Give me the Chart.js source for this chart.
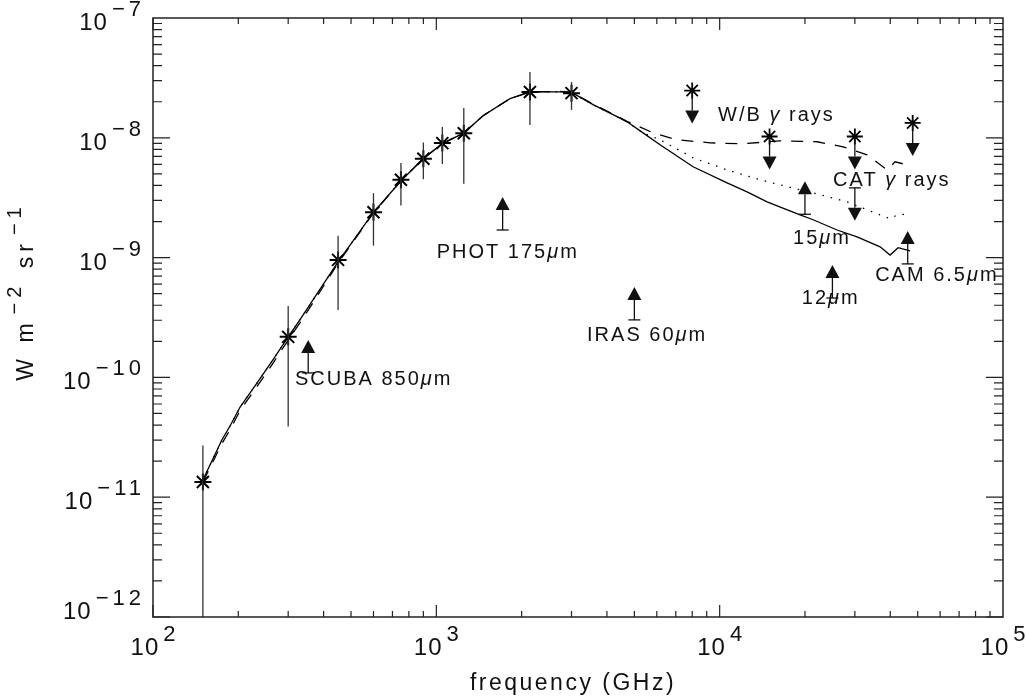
<!DOCTYPE html>
<html>
<head>
<meta charset="utf-8">
<script src="https://cdn.jsdelivr.net/npm/chart.js@4.4.0/dist/chart.umd.min.js"></script>
<style>
  html, body { margin: 0; padding: 0; background: #fff; }
  #wrap { width: 1026px; height: 698px; }
</style>
</head>
<body>
<div id="wrap"><canvas id="sedChart" width="1026" height="698"></canvas></div>
<script>
// Measured points (frequency in GHz, intensity in W m^-2 sr^-1)
const dataFreq = [150, 300, 450, 600, 750, 900, 1050, 1250, 2140, 3000];
const dataVal  = [1.34e-11, 2.18e-10, 9.57e-10, 2.39e-9, 4.46e-9, 6.68e-9, 9.03e-9, 1.09e-8, 2.41e-8, 2.36e-8];
const dataHi   = [2.7e-11, 3.95e-10, 1.52e-9, 3.45e-9, 6.15e-9, 9.14e-9, 1.23e-8, 1.77e-8, 3.54e-8, 2.92e-8];
const dataLo   = [1e-12, 3.9e-11, 3.66e-10, 1.26e-9, 2.72e-9, 4.52e-9, 6.03e-9, 4.13e-9, 1.28e-8, 1.71e-8];

// W/B gamma-ray upper limits (asterisk + down arrow)
const gammaFreq = [8000, 15000, 30000, 48000];
const gammaVal  = [2.48e-8, 1.025e-8, 1.025e-8, 1.33e-8];

// CAT gamma-ray upper limit (bar + down arrow)
const catFreq = [30000];
const catVal  = [3.82e-9];

// lower limits (bar + up arrow): SCUBA, PHOT, IRAS 60, 15um, 12um, CAM 6.5um
const lowFreq = [353, 1714, 5000, 20000, 25000, 46100];
const lowVal  = [1.09e-10, 1.70e-9, 3.02e-10, 2.3e-9, 4.6e-10, 8.86e-10];

// model curves
const solidFreq = [150, 175, 187, 203, 233, 265, 300, 330, 367, 450, 598, 751, 898, 1047, 1252, 1462, 1820, 2142,
  2733, 3013, 3574, 4343, 4711, 5366, 6161, 8056, 10620, 12495, 14701, 19220, 21365, 25970, 30549, 36837, 39950, 42630, 47000];
const solidVal = [1.39e-11, 3.0e-11, 3.93e-11, 5.66e-11, 8.98e-11, 1.40e-10, 2.18e-10, 3.02e-10, 4.43e-10, 9.2e-10, 2.36e-9,
  4.38e-9, 6.68e-9, 8.91e-9, 1.10e-8, 1.53e-8, 2.12e-8, 2.42e-8, 2.42e-8, 2.38e-8, 1.89e-8, 1.50e-8, 1.36e-8, 1.10e-8,
  8.74e-9, 5.73e-9, 4.21e-9, 3.54e-9, 2.92e-9, 2.27e-9, 2.07e-9, 1.70e-9, 1.49e-9, 1.23e-9, 1.05e-9, 1.21e-9, 1.14e-9];

const dottedFreq = [150, 175, 187, 203, 233, 265, 300, 330, 367, 450, 598, 751, 898, 1047, 1252, 1462, 1820, 2142,
  2733, 3013, 3574, 4343, 4711, 5366, 6161, 8056, 10620, 13885, 19220, 21365, 28170, 36837, 39950, 42290, 47000];
const dottedVal = [1.39e-11, 3.0e-11, 3.93e-11, 5.66e-11, 8.98e-11, 1.40e-10, 2.18e-10, 3.02e-10, 4.43e-10, 9.2e-10, 2.36e-9,
  4.38e-9, 6.68e-9, 8.91e-9, 1.10e-8, 1.53e-8, 2.12e-8, 2.42e-8, 2.42e-8, 2.38e-8, 1.89e-8, 1.50e-8, 1.36e-8, 1.10e-8,
  9.62e-9, 6.81e-9, 5.40e-9, 4.46e-9, 3.68e-9, 3.47e-9, 2.92e-9, 2.27e-9, 2.11e-9, 2.27e-9, 2.32e-9];

const dashedFreq = [150, 175, 187, 203, 233, 265, 300, 330, 367, 450, 598, 751, 898, 1047, 1252, 1462, 1820, 2142,
  2733, 3013, 3574, 4343, 4711, 5821, 7071, 9250, 12094, 16340, 22070, 27260, 33140, 38990, 41600, 45860];
const dashedVal = [1.34e-11, 2.8e-11, 3.65e-11, 5.3e-11, 8.4e-11, 1.31e-10, 2.05e-10, 2.85e-10, 4.2e-10, 9.0e-10, 2.33e-9,
  4.38e-9, 6.68e-9, 8.91e-9, 1.10e-8, 1.53e-8, 2.12e-8, 2.42e-8, 2.44e-8, 2.40e-8, 1.91e-8, 1.52e-8, 1.37e-8,
  1.10e-8, 9.62e-9, 9.08e-9, 8.91e-9, 9.44e-9, 9.27e-9, 8.41e-9, 7.21e-9, 5.40e-9, 6.30e-9, 5.95e-9];

// annotations
const noteText = ['SCUBA 850μm', 'PHOT 175μm', 'IRAS 60μm', 'W/B γ rays', 'CAT γ rays', '15μm', '12μm', 'CAM 6.5μm'];
const noteFreq = [317, 1003, 3404, 9872, 25140, 18160, 19490, 35380];
const noteVal  = [8.65e-11, 9.94e-10, 2.01e-10, 1.39e-8, 3.97e-9, 1.30e-9, 4.10e-10, 6.38e-10];

// axes
const xTickVals = [1e2, 1e3, 1e4, 1e5];
const xTickExp  = ['2', '3', '4', '5'];
const yTickVals = [1e-12, 1e-11, 1e-10, 1e-9, 1e-8, 1e-7];
const yTickExp  = ['−12', '−11', '−10', '−9', '−8', '−7'];

const FONT = '"Liberation Sans", Arial, sans-serif';
const INK = '#111';

function toPoints(xs, ys) {
    return xs.map((f, i) => ({ x: f, y: ys[i] }));
}

// width of a string made of normal and superscript pieces
function pieceWidth(ctx, parts, base, sup) {
    let w = 0;
    parts.forEach(p => {
        ctx.font = p.sup ? sup.font : base.font;
        ctx.letterSpacing = (p.sup ? sup.spacing : base.spacing) + 'px';
        w += ctx.measureText(p.t).width + (p.gap || 0);
    });
    return w;
}

function drawPieces(ctx, parts, x, y, base, sup) {
    let cx = x;
    parts.forEach(p => {
        ctx.font = (p.it ? 'italic ' : '') + (p.sup ? sup.font : base.font);
        ctx.letterSpacing = (p.sup ? sup.spacing : base.spacing) + 'px';
        cx += p.gap || 0;
        ctx.fillText(p.t, cx, p.sup ? y - sup.raise : y);
        cx += ctx.measureText(p.t).width;
    });
}

// split a label so that Greek letters come out in italics
function noteParts(text) {
    return text.split(/([μγ])/).filter(s => s).map(s => ({ t: s, it: /[μγ]/.test(s) }));
}

// arrow from (px, py): dir = 1 points down, -1 points up
function drawArrow(ctx, px, py, dir) {
    const len = 33, triH = 13, half = 7;
    const baseY = py + dir * (len - triH);
    ctx.beginPath();
    ctx.moveTo(px, py);
    ctx.lineTo(px, baseY);
    ctx.stroke();
    ctx.beginPath();
    ctx.moveTo(px - half, baseY);
    ctx.lineTo(px + half, baseY);
    ctx.lineTo(px, py + dir * len);
    ctx.closePath();
    ctx.fill();
}

function drawCap(ctx, px, py) {
    ctx.beginPath();
    ctx.moveTo(px - 6, py);
    ctx.lineTo(px + 6, py);
    ctx.stroke();
}

const overlayPlugin = {
    id: 'overlay',
    afterDatasetsDraw(chart) {
        const { ctx, chartArea: a, scales: { x, y } } = chart;
        ctx.save();
        ctx.beginPath();
        ctx.rect(a.left, a.top, a.right - a.left, a.bottom - a.top);
        ctx.clip();

        // error bars on measured points
        ctx.strokeStyle = '#333';
        ctx.lineWidth = 1.3;
        dataFreq.forEach((f, i) => {
            const px = x.getPixelForValue(f);
            ctx.beginPath();
            ctx.moveTo(px, y.getPixelForValue(dataHi[i]));
            ctx.lineTo(px, y.getPixelForValue(dataLo[i]));
            ctx.stroke();
        });

        ctx.strokeStyle = INK;
        ctx.fillStyle = INK;
        ctx.lineWidth = 1.3;
        gammaFreq.forEach((f, i) => {
            drawArrow(ctx, x.getPixelForValue(f), y.getPixelForValue(gammaVal[i]), 1);
        });
        catFreq.forEach((f, i) => {
            const px = x.getPixelForValue(f), py = y.getPixelForValue(catVal[i]);
            drawCap(ctx, px, py);
            drawArrow(ctx, px, py, 1);
        });
        lowFreq.forEach((f, i) => {
            const px = x.getPixelForValue(f), py = y.getPixelForValue(lowVal[i]);
            drawCap(ctx, px, py);
            drawArrow(ctx, px, py, -1);
        });
        ctx.restore();
    },
    afterDraw(chart) {
        const { ctx, chartArea: a, scales: { x, y } } = chart;
        ctx.save();

        // frame
        ctx.strokeStyle = '#222';
        ctx.lineWidth = 1.5;
        ctx.strokeRect(a.left, a.top, a.right - a.left, a.bottom - a.top);

        // ticks on all four sides
        ctx.lineWidth = 1.2;
        ctx.beginPath();
        for (let d = 2; d < 5; d++) {
            for (let k = 1; k < 10; k++) {
                const px = x.getPixelForValue(k * Math.pow(10, d));
                const len = k === 1 ? 12 : 6;
                ctx.moveTo(px, a.bottom); ctx.lineTo(px, a.bottom - len);
                ctx.moveTo(px, a.top); ctx.lineTo(px, a.top + len);
            }
        }
        for (let d = -12; d < -7; d++) {
            for (let k = 1; k < 10; k++) {
                const py = y.getPixelForValue(k * Math.pow(10, d));
                const len = k === 1 ? 17 : 9;
                ctx.moveTo(a.left, py); ctx.lineTo(a.left + len, py);
                ctx.moveTo(a.right, py); ctx.lineTo(a.right - len, py);
            }
        }
        ctx.stroke();

        ctx.fillStyle = INK;
        ctx.textBaseline = 'alphabetic';
        ctx.textAlign = 'left';
        const tickBase = { font: '24px ' + FONT, spacing: 1 };
        const tickSup = { font: '22px ' + FONT, spacing: 4, raise: 14 };

        // x tick labels
        xTickVals.forEach((v, i) => {
            const parts = [{ t: '10' }, { t: xTickExp[i], sup: true, gap: 4 }];
            const w = pieceWidth(ctx, parts, tickBase, tickSup);
            drawPieces(ctx, parts, x.getPixelForValue(v) - w / 2 + 2, a.bottom + 38, tickBase, tickSup);
        });
        // y tick labels
        yTickVals.forEach((v, i) => {
            const parts = [{ t: '10' }, { t: yTickExp[i], sup: true, gap: 4 }];
            const w = pieceWidth(ctx, parts, tickBase, tickSup);
            const off = i === 0 ? 2 : 12;
            drawPieces(ctx, parts, a.left - 8 - w, y.getPixelForValue(v) + off, tickBase, tickSup);
        });

        // axis titles
        const titleBase = { font: '23px ' + FONT, spacing: 2.5 };
        const xt = [{ t: 'frequency (GHz)' }];
        const xw = pieceWidth(ctx, xt, titleBase, titleBase);
        drawPieces(ctx, xt, (a.left + a.right) / 2 - 5 - xw / 2, a.bottom + 73, titleBase, titleBase);

        const yBase = { font: '23px ' + FONT, spacing: 5 };
        const ySup = { font: '20px ' + FONT, spacing: 5, raise: 12 };
        const yt = [{ t: 'W m' }, { t: '−2', sup: true, gap: 4 }, { t: ' sr', gap: 2 }, { t: '−1', sup: true, gap: 4 }];
        const yw = pieceWidth(ctx, yt, yBase, ySup);
        ctx.save();
        ctx.translate(33, (a.top + a.bottom) / 2 - 26);
        ctx.rotate(-Math.PI / 2);
        drawPieces(ctx, yt, -yw / 2, 0, yBase, ySup);
        ctx.restore();

        // annotations
        const noteFont = { font: '20px ' + FONT, spacing: 2 };
        noteText.forEach((t, i) => {
            drawPieces(ctx, noteParts(t), x.getPixelForValue(noteFreq[i]), y.getPixelForValue(noteVal[i]), noteFont, noteFont);
        });
        ctx.restore();
    }
};

new Chart(document.getElementById('sedChart'), {
    type: 'scatter',
    data: {
        datasets: [
            { data: toPoints(solidFreq, solidVal), showLine: true, borderColor: '#000', borderWidth: 1.3, pointRadius: 0 },
            { data: toPoints(dottedFreq, dottedVal), showLine: true, borderColor: '#000', borderWidth: 1.3, borderDash: [1.5, 7], pointRadius: 0 },
            { data: toPoints(dashedFreq, dashedVal), showLine: true, borderColor: '#000', borderWidth: 1.3, borderDash: [12, 10], pointRadius: 0 },
            { data: toPoints(dataFreq, dataVal), pointStyle: 'star', pointRadius: 8.5, borderColor: '#000', borderWidth: 2, backgroundColor: '#000' },
            { data: toPoints(gammaFreq, gammaVal), pointStyle: 'star', pointRadius: 8, borderColor: '#000', borderWidth: 1.8, backgroundColor: '#000' }
        ]
    },
    options: {
        responsive: false,
        animation: false,
        layout: { padding: { left: 153, right: 23, top: 18, bottom: 81 } },
        plugins: {
            legend: { display: false },
            tooltip: { enabled: false }
        },
        scales: {
            x: { type: 'logarithmic', min: 100, max: 100000, display: false },
            y: { type: 'logarithmic', min: 1e-12, max: 1e-7, display: false }
        }
    },
    plugins: [overlayPlugin]
});
</script>
</body>
</html>
